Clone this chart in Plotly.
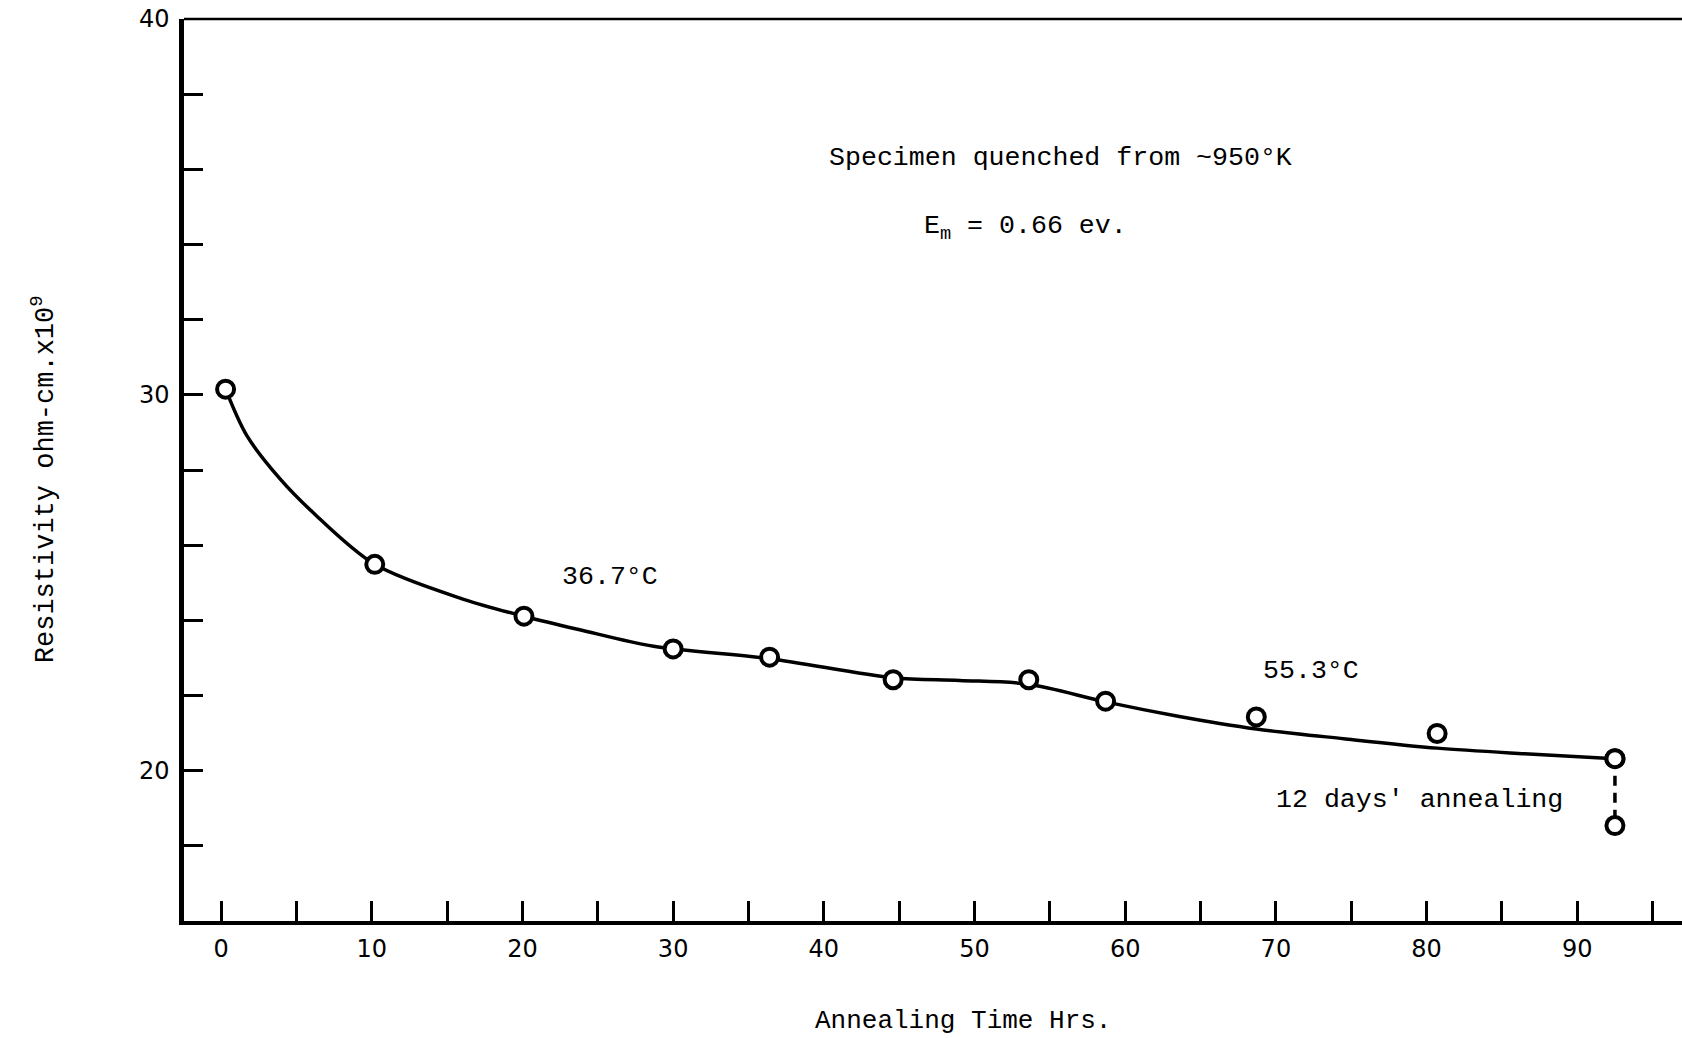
import plotly.graph_objects as go

# ---- data ----
# measured points (annealing time in hours, resistivity ohm-cm x 1e9)
point_hours = [0.3, 10.2, 20.1, 30.0, 36.4, 44.6, 53.6, 58.7, 68.7, 80.7, 92.5]
point_resistivity = [30.15, 25.49, 24.11, 23.24, 23.02, 22.42, 22.42, 21.85, 21.43, 20.99, 20.32]

# point after 12 days' annealing (joined to the last point by a dashed line)
final_hours = [92.5, 92.5]
final_resistivity = [20.32, 18.54]

# hand-drawn smooth curve
curve_hours = [0.3, 1.7, 3.9, 6.1, 10.2, 16.1, 20.1, 23.8, 28.7, 36.4, 44.6,
               49.0, 53.6, 58.7, 63.5, 68.7, 74.5, 80.7, 86.5, 92.5]
curve_resistivity = [30.15, 28.92, 27.77, 26.87, 25.49, 24.56, 24.11, 23.75, 23.31, 22.98, 22.47,
                     22.40, 22.30, 21.83, 21.45, 21.11, 20.85, 20.60, 20.45, 20.32]

x_title = "Annealing Time Hrs."
y_title = "Resistivity ohm-cm.x10<sup>9</sup>"
note_lines = ["Specimen quenched from ~950°K", "E<sub>m</sub> = 0.66 ev."]
label_low_temp = "36.7°C"
label_high_temp = "55.3°C"
label_final = "12 days' annealing"

TEXT_FONT = "Liberation Mono, DejaVu Sans Mono, monospace"
NUM_FONT = "DejaVu Sans, Liberation Sans, sans-serif"
INK = "#000000"

fig = go.Figure()

fig.add_trace(go.Scatter(
    x=curve_hours, y=curve_resistivity, mode="lines",
    line=dict(color=INK, width=3.5, shape="spline", smoothing=0.9),
    hoverinfo="skip", showlegend=False,
))

fig.add_trace(go.Scatter(
    x=final_hours, y=final_resistivity, mode="lines+markers",
    line=dict(color=INK, width=3.5, dash="10px,7px"),
    marker=dict(symbol="circle", size=17, color="white", line=dict(color=INK, width=4)),
    showlegend=False,
))

fig.add_trace(go.Scatter(
    x=point_hours, y=point_resistivity, mode="markers",
    marker=dict(symbol="circle", size=17, color="white", line=dict(color=INK, width=4)),
    showlegend=False,
))

annotations = [
    dict(x=40.2, y=36.30, text=note_lines[0]),
    dict(x=46.5, y=34.45, text=note_lines[1]),
    dict(x=22.5, y=25.14, text=label_low_temp),
    dict(x=69.0, y=22.64, text=label_high_temp),
    dict(x=69.9, y=19.23, text=label_final),
]
for a in annotations:
    a.update(xref="x", yref="y", xanchor="left", yanchor="middle", showarrow=False,
             font=dict(family=TEXT_FONT, size=26.6, color=INK))

# axis titles placed as in the reference
annotations.append(dict(x=0.52, y=-0.111, xref="paper", yref="paper", text=x_title,
                        xanchor="center", yanchor="middle", showarrow=False,
                        font=dict(family=TEXT_FONT, size=26, color=INK)))
annotations.append(dict(x=-0.094, y=0.49, xref="paper", yref="paper", text=y_title,
                        textangle=-90, xanchor="center", yanchor="middle", showarrow=False,
                        font=dict(family=TEXT_FONT, size=27, color=INK)))

fig.update_layout(
    width=1682, height=1038,
    margin=dict(l=184, r=0, t=19, b=117),
    paper_bgcolor="white", plot_bgcolor="white",
    annotations=annotations,
    shapes=[dict(type="line", xref="paper", yref="paper", x0=0, x1=1, y0=1, y1=1,
                 line=dict(color=INK, width=2.5))],
)

fig.update_xaxes(
    range=[-2.46, 96.95], showgrid=False, zeroline=False,
    showline=True, linecolor=INK, linewidth=4,
    tick0=0, dtick=10, ticks="inside", ticklen=20, tickwidth=3, tickcolor=INK,
    minor=dict(dtick=5, ticks="inside", ticklen=20, tickwidth=3, tickcolor=INK),
    tickfont=dict(family=NUM_FONT, size=24, color=INK),
    ticklabelstandoff=3,
    automargin=False,
)

fig.update_yaxes(
    range=[16.0, 40], showgrid=False, zeroline=False,
    showline=True, linecolor=INK, linewidth=4.5,
    tick0=0, dtick=10, ticks="inside", ticklen=19, tickwidth=2.5, tickcolor=INK,
    minor=dict(dtick=2, ticks="inside", ticklen=19, tickwidth=2.5, tickcolor=INK),
    tickfont=dict(family=NUM_FONT, size=24, color=INK),
    ticklabelstandoff=5,
    automargin=False,
)

fig.write_html("out.html")
